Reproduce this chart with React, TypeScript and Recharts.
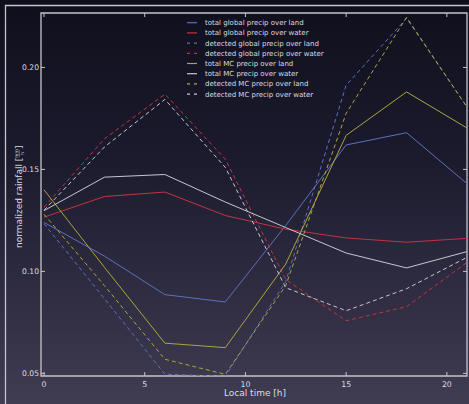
import { LineChart, Line, XAxis, YAxis, ReferenceArea } from "recharts";

const hours = [0, 3, 6, 9, 12, 15, 18, 21];
const totalGlobalLand = [0.124, 0.1075, 0.0886, 0.085, 0.1225, 0.162, 0.168, 0.143];
const totalGlobalWater = [0.1266, 0.1367, 0.1389, 0.1274, 0.1207, 0.1164, 0.1143, 0.1162];
const detectedGlobalLand = [0.1234, 0.0866, 0.0496, 0.0485, 0.095, 0.1913, 0.2241, 0.1806];
const detectedGlobalWater = [0.1315, 0.165, 0.1869, 0.155, 0.096, 0.0758, 0.0827, 0.1044];
const totalMCLand = [0.14, 0.102, 0.0648, 0.0626, 0.1036, 0.1667, 0.188, 0.1703];
const totalMCWater = [0.1298, 0.1462, 0.1475, 0.134, 0.1215, 0.109, 0.1017, 0.1097];
const detectedMCLand = [0.128, 0.093, 0.0569, 0.0495, 0.093, 0.1775, 0.2246, 0.1805];
const detectedMCWater = [0.13, 0.161, 0.1843, 0.151, 0.092, 0.0807, 0.0915, 0.1069];

const xTicks = [0, 5, 10, 15, 20];
const yTicks = [0.05, 0.1, 0.15, 0.2];

const X_MIN = -0.15;
const X_MAX = 21;
const Y_MIN = 0.0487;
const Y_MAX = 0.2267;

const W = 469;
const H = 404;
const PLOT = { left: 41, top: 13, right: 467, bottom: 376 };

const FONT = "DejaVu Sans, sans-serif";
const SPINE = "#c4c4cc";
const TEXT = "#dcdce4";

const BLUE = "#5d70bd";
const RED = "#c23440";
const YELLOW = "#aaa63c";
const GREY = "#c6c6d0";

const series = [
  { key: "tgl", name: "total global precip over land", values: totalGlobalLand, color: BLUE, dashed: false },
  { key: "tgw", name: "total global precip over water", values: totalGlobalWater, color: RED, dashed: false },
  { key: "dgl", name: "detected global precip over land", values: detectedGlobalLand, color: BLUE, dashed: true },
  { key: "dgw", name: "detected global precip over water", values: detectedGlobalWater, color: RED, dashed: true },
  { key: "tml", name: "total MC precip over land", values: totalMCLand, color: YELLOW, dashed: false },
  { key: "tmw", name: "total MC precip over water", values: totalMCWater, color: GREY, dashed: false },
  { key: "dml", name: "detected MC precip over land", values: detectedMCLand, color: YELLOW, dashed: true },
  { key: "dmw", name: "detected MC precip over water", values: detectedMCWater, color: GREY, dashed: true },
];

const data = hours.map((h, i) => {
  const row: Record<string, number> = { hour: h };
  series.forEach((s) => {
    row[s.key] = s.values[i];
  });
  return row;
});

const XTick = (props: any) => {
  const { x, payload } = props;
  return (
    <g>
      <line x1={x} x2={x} y1={PLOT.bottom} y2={PLOT.bottom - 4} stroke={SPINE} />
      <line x1={x} x2={x} y1={PLOT.top} y2={PLOT.top + 4} stroke={SPINE} />
      <text x={x} y={PLOT.bottom + 11} textAnchor="middle" fill={TEXT} fontSize={7.8} fontFamily={FONT}>
        {payload.value}
      </text>
    </g>
  );
};

const YTick = (props: any) => {
  const { y, payload } = props;
  return (
    <g>
      <line x1={PLOT.left} x2={PLOT.left + 4} y1={y} y2={y} stroke={SPINE} />
      <line x1={PLOT.right - 4} x2={PLOT.right} y1={y} y2={y} stroke={SPINE} />
      <text x={PLOT.left - 2} y={y + 3} textAnchor="end" fill={TEXT} fontSize={7.6} fontFamily={FONT}>
        {payload.value.toFixed(2)}
      </text>
    </g>
  );
};

export default function App() {
  return (
    <div
      style={{
        position: "absolute",
        left: 0,
        top: 0,
        width: W,
        height: H,
        overflow: "hidden",
        background: "linear-gradient(to bottom, #0f0f1c 0%, #1c1b2e 40%, #403c52 100%)",
      }}
    >
      <LineChart width={W} height={H} data={data} margin={{ top: PLOT.top, right: W - PLOT.right, bottom: 0, left: 0 }}>
        <XAxis
          dataKey="hour"
          type="number"
          domain={[X_MIN, X_MAX]}
          allowDataOverflow
          ticks={xTicks}
          tick={<XTick />}
          tickLine={false}
          axisLine={false}
          height={H - PLOT.bottom}
        />
        <YAxis
          type="number"
          domain={[Y_MIN, Y_MAX]}
          allowDataOverflow
          ticks={yTicks}
          tick={<YTick />}
          tickLine={false}
          axisLine={false}
          width={PLOT.left}
        />
        {series.map((s) => (
          <Line
            key={s.key}
            dataKey={s.key}
            name={s.name}
            stroke={s.color}
            strokeWidth={1}
            strokeDasharray={s.dashed ? "4 3" : undefined}
            dot={false}
            activeDot={false}
            isAnimationActive={false}
          />
        ))}
        <ReferenceArea x1={X_MIN} x2={X_MAX} y1={Y_MIN} y2={Y_MAX} fill="none" stroke={SPINE} strokeWidth={1.3} />
      </LineChart>
      <svg width={W} height={H} style={{ position: "absolute", left: 0, top: 0, pointerEvents: "none" }}>
        <path d={`M5.5 ${H + 5} V5.5 H${W + 5}`} fill="none" stroke={SPINE} strokeWidth={1.3} />
        {series.map((s, i) => {
          const y = 22.7 + i * 10.2;
          return (
            <g key={s.key}>
              <line
                x1={187}
                x2={197}
                y1={y}
                y2={y}
                stroke={s.color}
                strokeWidth={1.2}
                strokeDasharray={s.dashed ? "3 4" : undefined}
              />
              <text x={205} y={y + 2.5} fill={TEXT} fontSize={7} fontFamily={FONT}>
                {s.name}
              </text>
            </g>
          );
        })}
        <text x={255} y={396} textAnchor="middle" fill={TEXT} fontSize={9} fontFamily={FONT}>
          Local time [h]
        </text>
        <g transform="translate(21.5, 248) rotate(-90)" fill={TEXT} fontFamily={FONT}>
          <text x={0} y={0} fontSize={9}>
            normalized rainfall [
          </text>
          <text x={94.5} y={-3.5} fontSize={4.5} textAnchor="middle">
            mm
          </text>
          <line x1={91} x2={98} y1={-2.3} y2={-2.3} stroke={TEXT} strokeWidth={0.5} />
          <text x={94.5} y={2.5} fontSize={4.5} textAnchor="middle">
            h
          </text>
          <text x={99} y={0} fontSize={9}>
            ]
          </text>
        </g>
      </svg>
    </div>
  );
}
